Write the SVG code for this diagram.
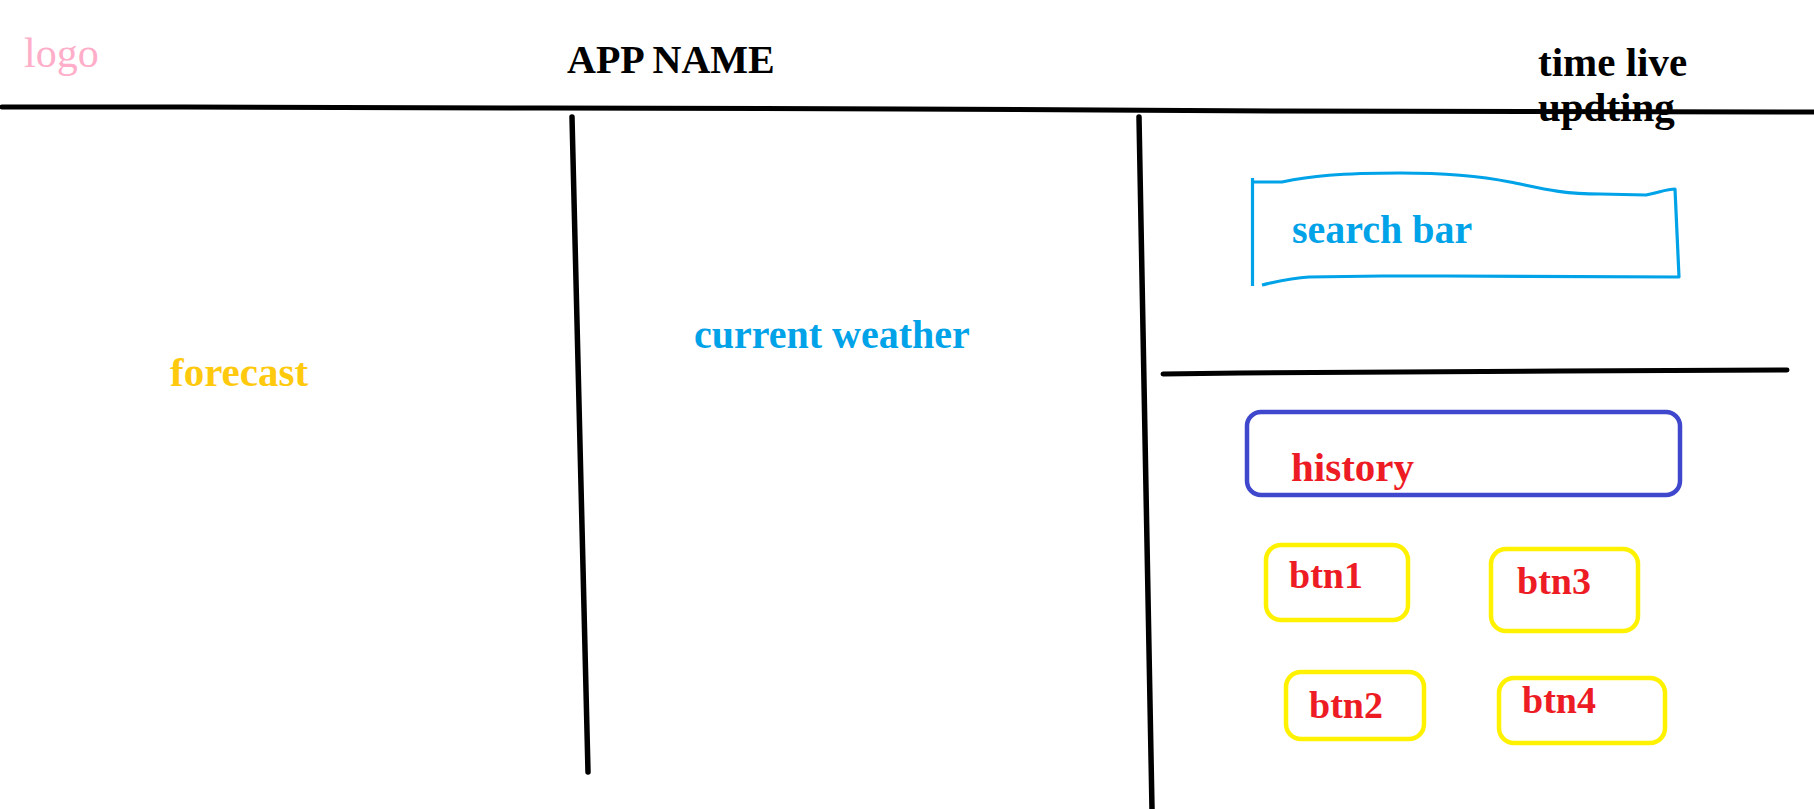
<svg xmlns="http://www.w3.org/2000/svg" width="1814" height="809" viewBox="0 0 1814 809">
  <style>
    text { font-family: "Liberation Serif", "Times New Roman", serif; }
    .b { font-weight: bold; }
    .div { fill: none; stroke: #000; stroke-linecap: round; stroke-linejoin: round; }
    .btn { fill: none; stroke: #fff200; stroke-width: 4.5; }
    .btnt { fill: #ed1c24; font-size: 38px; font-weight: bold; }
  </style>
  <rect width="1814" height="809" fill="#fff"/>

  <g id="logo">
    <text x="24" y="67" font-size="42" fill="#ffaec9">logo</text>
  </g>
  <g id="app-name">
    <text class="b" x="567" y="73" font-size="40" fill="#000">APP NAME</text>
  </g>
  <g id="time-live">
    <text class="b" x="1538" y="76" font-size="41" fill="#000">time live</text>
    <text class="b" x="1538" y="121" font-size="41" fill="#000">updting</text>
  </g>

  <g id="dividers">
    <polyline class="div" stroke-width="5" points="2,107 184,107 545,108 900,109 1100,110 1273,111 1814,112"/>
    <polyline class="div" stroke-width="5.5" points="572,117 588,772"/>
    <polyline class="div" stroke-width="5.5" points="1139,117 1152,809"/>
    <polyline class="div" stroke-width="5" points="1163,374 1240,373 1400,372 1560,371 1787,370"/>
  </g>

  <g id="forecast">
    <text class="b" x="170" y="386" font-size="41" fill="#ffc90e">forecast</text>
  </g>
  <g id="current-weather">
    <text class="b" x="694" y="348" font-size="40" fill="#00a2e8">current weather</text>
  </g>

  <g id="search-bar">
    <path d="M1252.5,178 L1252.5,286 M1252.5,182 L1282,182 C1310,176 1340,173 1400,173 C1450,173 1480,176 1510,182 C1540,188 1560,194 1600,194 L1646,195 C1660,192 1668,189 1675,189 L1679,277 L1446,276 L1382,276 L1309,277 C1290,278 1275,282 1262,285" fill="none" stroke="#00a2e8" stroke-width="3.2" stroke-linejoin="round"/>
    <text class="b" x="1292" y="243" font-size="40" fill="#00a2e8">search bar</text>
  </g>

  <g id="history">
    <rect x="1247" y="412" width="433" height="83" rx="14" fill="none" stroke="#3f48cc" stroke-width="4.5"/>
    <text class="b" x="1291" y="481" font-size="41" fill="#ed1c24">history</text>
  </g>

  <g id="btn1">
    <rect class="btn" x="1266" y="545" width="142" height="75" rx="15"/>
    <text class="btnt" x="1289" y="588">btn1</text>
  </g>
  <g id="btn3">
    <rect class="btn" x="1491" y="549" width="147" height="82" rx="15"/>
    <text class="btnt" x="1517" y="594">btn3</text>
  </g>
  <g id="btn2">
    <rect class="btn" x="1286" y="672" width="138" height="67" rx="15"/>
    <text class="btnt" x="1309" y="718">btn2</text>
  </g>
  <g id="btn4">
    <rect class="btn" x="1499" y="678" width="166" height="65" rx="15"/>
    <text class="btnt" x="1522" y="713">btn4</text>
  </g>
</svg>
